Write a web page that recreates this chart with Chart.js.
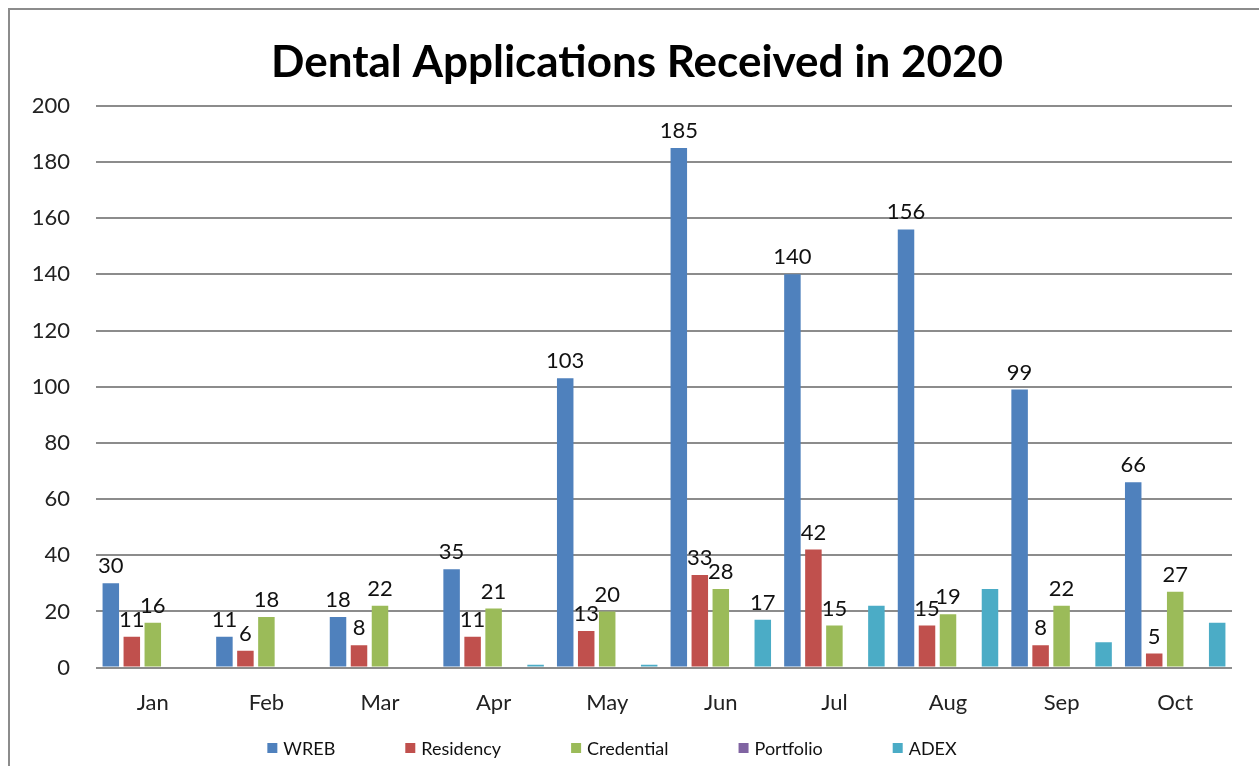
<!DOCTYPE html>
<html>
<head>
<meta charset="utf-8">
<title>Dental Applications Received in 2020</title>
<script src="https://cdn.jsdelivr.net/npm/chart.js@4/dist/chart.umd.min.js"></script>
<style>
  html, body { margin: 0; padding: 0; background: #fff; overflow: hidden; }
  #frame {
    position: absolute; left: 8px; top: 8px;
    width: 1300px; height: 800px;
    border: 2px solid #8c8c8c;
  }
  #wrap { position: absolute; left: 0; top: 0; width: 1259px; height: 766px; }
</style>
</head>
<body>
<div id="frame"></div>
<div id="wrap"><canvas id="myChart"></canvas></div>
<script>
const months = ["Jan", "Feb", "Mar", "Apr", "May", "Jun", "Jul", "Aug", "Sep", "Oct"];
const wreb = [30, 11, 18, 35, 103, 185, 140, 156, 99, 66];
const residency = [11, 6, 8, 11, 13, 33, 42, 15, 8, 5];
const credential = [16, 18, 22, 21, 20, 28, 15, 19, 22, 27];
const portfolio = [0, 0, 0, 0, 0, 0, 0, 0, 0, 0];
const adex = [0, 0, 0, 1, 1, 17, 22, 28, 9, 16];
// only the June ADEX bar carries a value label
const adexLabeled = [false, false, false, false, false, true, false, false, false, false];
const yTicks = [0, 20, 40, 60, 80, 100, 120, 140, 160, 180, 200];

const FONT = "Lato, 'Open Sans', sans-serif";

// value labels above the bars
const barLabels = {
  id: "barLabels",
  afterDatasetsDraw(chart) {
    const ctx = chart.ctx;
    ctx.save();
    ctx.font = "22px " + FONT;
    ctx.fillStyle = "#111";
    ctx.textAlign = "center";
    ctx.textBaseline = "bottom";
    chart.data.datasets.forEach((ds, di) => {
      if (!ds.showLabels) return;
      const meta = chart.getDatasetMeta(di);
      meta.data.forEach((bar, i) => {
        if (ds.showLabels !== true && !ds.showLabels[i]) return;
        ctx.fillText(String(ds.data[i]), bar.x, bar.y - 6);
      });
    });
    ctx.restore();
  }
};

// nudge the title a little to the right of the canvas centre
const titleShift = {
  id: "titleShift",
  afterLayout(chart) {
    if (chart.titleBlock) chart.titleBlock.left += 42;
  }
};

// legend row along the bottom
const bottomLegend = {
  id: "bottomLegend",
  afterDraw(chart) {
    const ctx = chart.ctx;
    const box = 10, gap = 6, spacing = 70, y = 748;
    ctx.save();
    ctx.font = "18px " + FONT;
    ctx.textBaseline = "middle";
    const items = chart.data.datasets.map(ds => ({
      text: ds.label, color: ds.backgroundColor,
      w: box + gap + ctx.measureText(ds.label).width
    }));
    const total = items.reduce((s, it) => s + it.w, 0) + spacing * (items.length - 1);
    let x = 612 - total / 2;
    items.forEach(it => {
      ctx.fillStyle = it.color;
      ctx.fillRect(x, y - box / 2, box, box);
      ctx.fillStyle = "#111";
      ctx.fillText(it.text, x + box + gap, y + 1);
      x += it.w + spacing;
    });
    ctx.restore();
  }
};

const ctx = document.getElementById("myChart");

new Chart(ctx, {
  type: "bar",
  data: {
    labels: months,
    datasets: [
      { label: "WREB", data: wreb, backgroundColor: "#4F81BD", showLabels: true },
      { label: "Residency", data: residency, backgroundColor: "#C0504D", showLabels: true },
      { label: "Credential", data: credential, backgroundColor: "#9BBB59", showLabels: true },
      { label: "Portfolio", data: portfolio, backgroundColor: "#8064A2", showLabels: false },
      { label: "ADEX", data: adex, backgroundColor: "#4BACC6", showLabels: adexLabeled },
    ],
  },
  options: {
    responsive: true,
    maintainAspectRatio: false,
    animation: false,
    categoryPercentage: 0.924,
    barPercentage: 0.786,
    layout: { padding: { top: 0, right: 27, bottom: 28, left: 0 } },
    plugins: {
      legend: { display: false },
      tooltip: { enabled: false },
      title: {
        display: true,
        text: "Dental Applications Received in 2020",
        color: "#000",
        font: { family: FONT, size: 44, weight: "bold", lineHeight: 1.2 },
        padding: { top: 36, bottom: 17 },
      },
    },
    scales: {
      x: {
        grid: { display: false, drawTicks: false },
        border: { display: false },
        ticks: { color: "#222", font: { family: FONT, size: 22 }, padding: 22 },
      },
      y: {
        min: 0,
        max: 200,
        afterFit(scale) { scale.width = 96; },
        afterBuildTicks(scale) { scale.ticks = yTicks.map(v => ({ value: v })); },
        grid: { color: "#8c8c8c", lineWidth: 2, drawTicks: false },
        border: { display: false },
        ticks: { color: "#222", font: { family: FONT, size: 22 }, padding: 26 },
      },
    },
  },
  plugins: [barLabels, titleShift, bottomLegend],
});
</script>
</body>
</html>
